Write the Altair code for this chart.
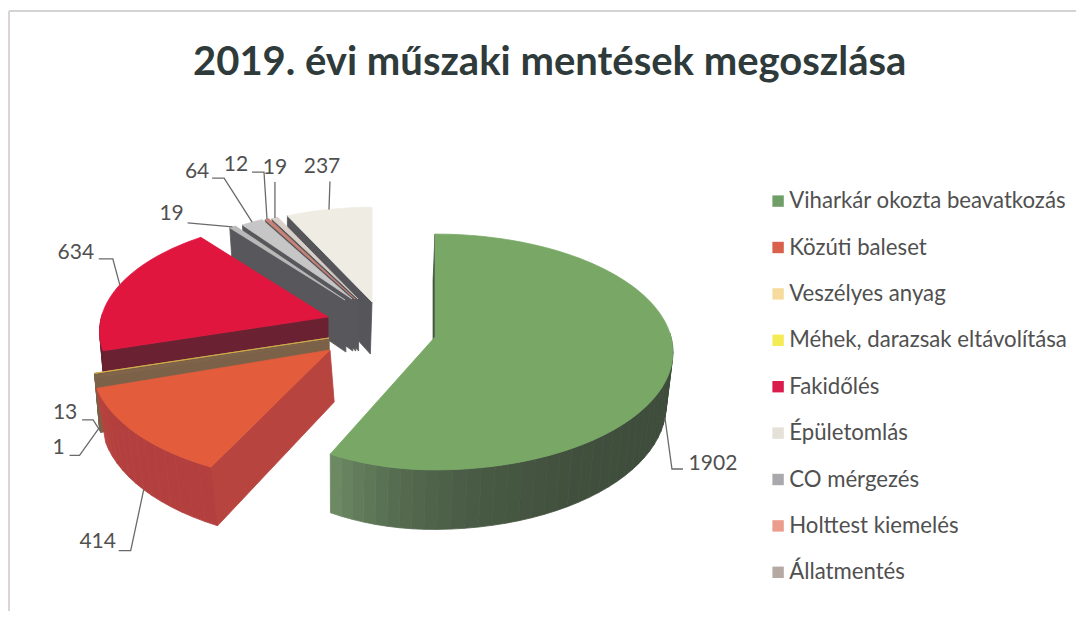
import math
import altair as alt
import pandas as pd

# ---------- data ----------
values = [1902, 414, 13, 1, 634, 19, 64, 12, 19, 237]
names = ["Viharkár okozta beavatkozás", "Közúti baleset", "Veszélyes anyag",
         "Méhek, darazsak eltávolítása", "Fakidőlés", "Épületomlás", "CO mérgezés",
         "Holttest kiemelés", "Állatmentés"]
legend_colors = ["#6f9e66", "#d9604a", "#f5dc9c", "#f5ec55", "#d91c4c", "#e5e0d8", "#a9a9ad", "#ec9c8c", "#b5a9a4"]

# ---------- 3D look of each slice ----------
top_colors = ["#79a866", "#e35c3c", "#80654a", "#d6b24a", "#e0163f", "#b9b9b9", "#c6c6c6", "#c98377", "#d8cfc8", "#efece4"]
wall_dark = ["#3e4c3b", "#b3403e", "#7b6148", "#7b6148", "#6a2232", "#58585c", "#58585c", "#58585c", "#58585c", "#56565a"]
wall_light = ["#6f8d66", "#b8443f", "#7b6148", "#7b6148", "#7a2035", "#58585c", "#58585c", "#58585c", "#58585c", "#56565a"]
explode_x = [435, 330, 329, 329, 328, 345, 352, 355, 358, 372]
explode_y = [337, 350, 340, 338, 317, 300, 299, 299, 299, 302]
slice_scale = [1, 1, 1, 1, .96, .87, .87, .87, .87, .92]
left_scale = [.88, 1, 1, 1, 1, 1, 1, 1, 1, 1]
lean = [0, 4, 0, 0, 0, 1, 1, 1, 1, -1]
draw_order = [9, 8, 7, 6, 5, 4, 3, 2, 1, 0]
RX, RY, K, DEPTH, TILT = 236, 116, 0.127, 52, 0.02

# ---------- value labels and their leader lines (offsets from the rim point) ----------
anchor_z = [1, 1, 1, 1, 0, 0, 0, 0, 0, 0]
knee_dx = [7, -13, -7, -20, -7, -45, -28, -3, 0, 1]
knee_dy = [51, 61, -11, 28, -26, -4, -44, -47, -36, -28]
end_dx = [11, -12, -11, -10, -14, 0, -12, -12, 0, 0]
label_dx = [30, -21, -17, -11, -23, -16, -15, -16, 0, -8]
label_dy = [-5, -9, -7, -7, -6, -9, -6, -7, -14, -14]

total = sum(values)


def project(i, theta, z=0.0):
    s, Y = math.sin(theta), -math.cos(theta)
    w = 1 - K * Y
    x = explode_x[i] + RX * slice_scale[i] * s / w * (left_scale[i] if s < 0 else 1)
    y = explode_y[i] + RY * slice_scale[i] * Y / w
    if z:
        x += z * (lean[i] + TILT * (340 - x))
        y += z * DEPTH / w
    return x, y


def apex(i, z=0.0):
    x, y = explode_x[i], explode_y[i]
    if z:
        x += z * (lean[i] + TILT * (340 - x))
        y += z * DEPTH
    return x, y


def mix(a, b, t):
    pa = [int(a[k:k + 2], 16) for k in (1, 3, 5)]
    pb = [int(b[k:k + 2], 16) for k in (1, 3, 5)]
    return "#" + "".join(f"{round(p + (q - p) * t):02x}" for p, q in zip(pa, pb))


starts = []
acc = 0
for v in values:
    starts.append(acc / total * 2 * math.pi)
    acc += v
ends = starts[1:] + [2 * math.pi]

rows = []
pid = 0


def add(points, color):
    global pid
    for j, (x, y) in enumerate(points):
        rows.append({"poly": pid, "i": j, "px": x, "py": y, "col": color})
    pid += 1


for i in draw_order:
    a, b = starts[i], ends[i]
    # wall along the starting edge
    add([project(i, a), apex(i), apex(i, 1), project(i, a, 1)], wall_dark[i] if i != 1 else wall_light[i])
    # rim wall, shaded along the arc
    n = max(2, int((b - a) / math.radians(3)))
    for j in range(n):
        t0, t1 = a + (b - a) * j / n, a + (b - a) * (j + 1) / n
        if math.cos(t0) < 0.02 or math.cos(t1) < 0.02:
            col = mix(wall_dark[i], wall_light[i], ((j + .5) / n) ** 8)
            add([project(i, t0), project(i, t1), project(i, t1, 1), project(i, t0, 1)], col)
    # top face
    m = max(2, int((b - a) / math.radians(2)))
    add([apex(i)] + [project(i, a + (b - a) * j / m) for j in range(m + 1)], top_colors[i])

poly_df = pd.DataFrame(rows)

leader_rows, label_rows = [], []
for i, v in enumerate(values):
    mid = (starts[i] + ends[i]) / 2
    ax, ay = project(i, mid, anchor_z[i])
    kx, ky = ax + knee_dx[i], ay + knee_dy[i]
    ex, ey = kx + end_dx[i], ky
    for j, (x, y) in enumerate([(ax, ay), (kx, ky), (ex, ey)]):
        leader_rows.append({"k": i, "i": j, "px": x, "py": y})
    label_rows.append({"px": ex + label_dx[i], "py": ey + label_dy[i], "txt": str(v)})

xs = alt.Scale(domain=[8, 1076], nice=False, zero=False)
ys = alt.Scale(domain=[611, 8], nice=False, zero=False)
X = alt.X("px:Q", scale=xs, axis=None)
Y = alt.Y("py:Q", scale=ys, axis=None)

faces = alt.Chart(poly_df).mark_line(strokeWidth=0.8, interpolate="linear-closed").encode(
    x=X, y=Y, order=alt.Order("i:Q"), detail="poly:N",
    fill=alt.Fill("col:N", scale=None), stroke=alt.Stroke("col:N", scale=None))

leaders = alt.Chart(pd.DataFrame(leader_rows)).mark_line(color="#6a6a6a", strokeWidth=1.3).encode(
    x=X, y=Y, order=alt.Order("i:Q"), detail="k:N")

labels = alt.Chart(pd.DataFrame(label_rows)).mark_text(
    font="Lato", fontSize=21, color="#505050", align="center", baseline="middle").encode(x=X, y=Y, text="txt:N")

legend_df = pd.DataFrame({"name": names, "px": explode_x[:9], "py": explode_y[:9]})
legend_layer = alt.Chart(legend_df).mark_point(filled=True, shape="square", size=100, opacity=0).encode(
    x=X, y=Y,
    color=alt.Color("name:N",
                    scale=alt.Scale(domain=names, range=legend_colors),
                    legend=alt.Legend(title=None, orient="none", legendX=759, legendY=182,
                                      symbolType="square", symbolSize=130, symbolOpacity=1,
                                      symbolStrokeWidth=0,
                                      labelFont="Lato", labelFontSize=22.2, labelColor="#505050",
                                      labelLimit=340, labelOffset=0, rowPadding=23.4, padding=0)))

frame_top = alt.Chart(legend_df.head(1)).mark_rule(color="#c4c4c4", strokeWidth=1.5).encode(
    x=alt.value(1), x2=alt.value(1068), y=alt.value(3))
frame_left = alt.Chart(legend_df.head(1)).mark_rule(color="#ddd5d5", strokeWidth=2).encode(
    x=alt.value(1), y=alt.value(3), y2=alt.value(603))

chart = alt.layer(frame_top, frame_left, legend_layer, faces, leaders, labels).properties(
    width=1068, height=603, padding=0, background="white",
    autosize=alt.AutoSizeParams(type="none"),
    title=alt.TitleParams("2019. évi műszaki mentések megoszlása", font="Lato", fontSize=40, fontWeight="bold",
                          color="#2f3b3b", anchor="start", dx=185, dy=75, offset=0),
).configure_view(stroke=None)

chart.save("out.html", embed_options={"renderer": "svg", "actions": False})
